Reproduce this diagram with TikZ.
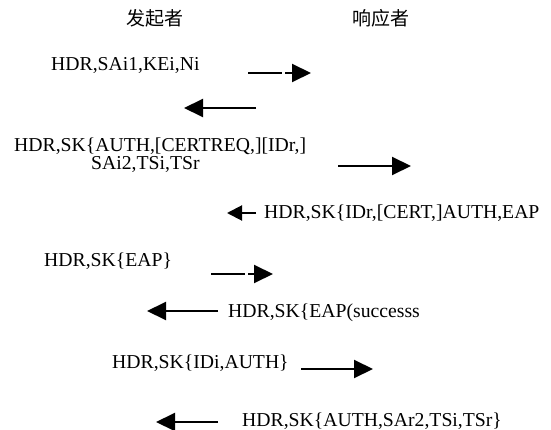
\documentclass[tikz,border=0pt]{standalone}
\usepackage{fontspec}
\setmainfont{Liberation Serif}
\newfontfamily\cjk{Noto Sans CJK SC}
\usetikzlibrary{arrows.meta}
\tikzset{
  msg/.style={anchor=base west, inner sep=0pt, font=\fontsize{19.7}{22}\selectfont},
  hdr/.style={anchor=center, inner sep=0pt, font=\cjk\fontsize{19}{22}\selectfont},
  flow/.style={line width=2pt, -{Triangle[length=19pt,width=18pt]}},
  smallflow/.style={line width=2pt, -{Triangle[length=15pt,width=15pt]}},
  broken/.style={dash pattern=on 34pt off 3pt on 200pt}
}
\begin{document}
\begin{tikzpicture}[x=1pt,y=-1pt]
\useasboundingbox (0,0) rectangle (551,430);
\node[hdr] (ini) at (155,18) {发起者};
\node[hdr] (res) at (381,18) {响应者};

\node[msg] (m1) at (51,71) {HDR,SAi1,KEi,Ni};
\coordinate (a1s) at (248,73); \coordinate (a1e) at (311,73);
\draw[flow,broken] (a1s) -- (a1e);

\coordinate (a2s) at (256,108); \coordinate (a2e) at (184,108);
\draw[flow] (a2s) -- (a2e);

\node[msg] (m3a) at (14,152) {HDR,SK\{AUTH,[CERTREQ,][IDr,]};
\node[msg] (m3b) at (91,170) {SAi2,TSi,TSr};
\coordinate (a3s) at (338,166); \coordinate (a3e) at (411,166);
\draw[flow] (a3s) -- (a3e);

\coordinate (a4s) at (256,213); \coordinate (a4e) at (227,213);
\draw[smallflow] (a4s) -- (a4e);
\node[msg] (m4) at (264,219) {HDR,SK\{IDr,[CERT,]AUTH,EAP};

\node[msg] (m5) at (44,266) {HDR,SK\{EAP\}};
\coordinate (a5s) at (211,274); \coordinate (a5e) at (273,274);
\draw[flow,broken] (a5s) -- (a5e);

\coordinate (a6s) at (218,311); \coordinate (a6e) at (147,311);
\draw[flow] (a6s) -- (a6e);
\node[msg] (m6) at (228,317) {HDR,SK\{EAP(successs};

\node[msg] (m7) at (112,368) {HDR,SK\{IDi,AUTH\}};
\coordinate (a7s) at (301,369); \coordinate (a7e) at (373,369);
\draw[flow] (a7s) -- (a7e);

\coordinate (a8s) at (218,422); \coordinate (a8e) at (156,422);
\draw[flow] (a8s) -- (a8e);
\node[msg] (m8) at (242,426) {HDR,SK\{AUTH,SAr2,TSi,TSr\}};
\end{tikzpicture}
\end{document}
